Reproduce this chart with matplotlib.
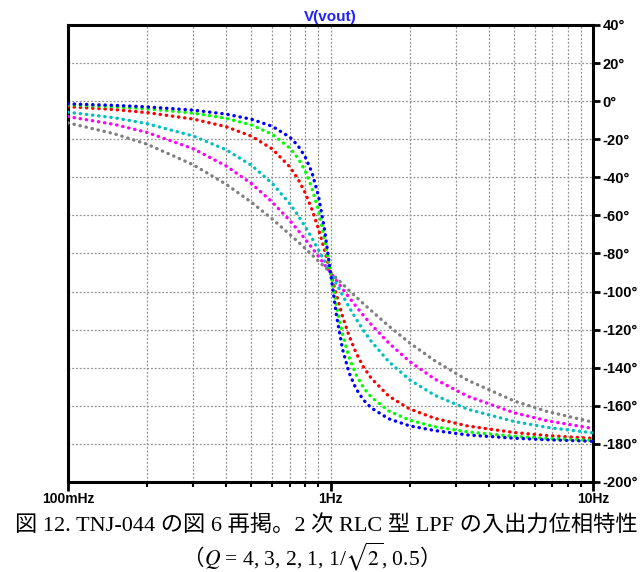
import matplotlib.pyplot as plt
import matplotlib as mpl
from matplotlib.ticker import FixedLocator, NullFormatter

mpl.rcParams['mathtext.fontset'] = 'stix'

# frequencies in Hz
freq = [0.1, 0.15, 0.2, 0.3, 0.4, 0.5, 0.6, 0.7, 0.75, 0.8, 0.85, 0.9, 0.95, 1.0,
        1.053, 1.111, 1.176, 1.25, 1.333, 1.429, 1.667, 2.0, 2.5, 3.333, 5.0, 6.667, 10.0]

# phase in degrees for each Q
phase_q4 = [-1.4, -2.2, -3.0, -4.7, -6.8, -9.5, -13.2, -18.9, -23.2, -29.1, -37.5, -49.8, -67.7, -90.0,
            -112.3, -130.2, -142.5, -150.9, -156.8, -161.1, -166.8, -170.5, -173.0, -175.3, -177.0, -177.8, -178.6]
phase_q3 = [-1.9, -2.9, -4.0, -6.3, -9.0, -12.5, -17.4, -24.6, -29.7, -36.5, -45.6, -57.7, -72.9, -90.0,
            -107.1, -122.3, -134.4, -143.5, -150.3, -155.4, -162.7, -167.5, -171.0, -173.7, -176.0, -177.1, -178.1]
phase_q2 = [-2.9, -4.4, -6.0, -9.4, -13.4, -18.4, -25.1, -34.5, -40.6, -48.0, -56.9, -67.1, -78.4, -90.0,
            -101.6, -112.9, -123.1, -132.0, -139.4, -145.5, -154.9, -161.6, -166.6, -170.6, -174.0, -175.6, -177.1]
phase_q1 = [-5.8, -8.7, -11.8, -18.3, -25.5, -33.7, -43.2, -53.9, -59.7, -65.8, -71.9, -78.1, -84.1, -90.0,
            -95.9, -101.9, -108.1, -114.2, -120.3, -126.1, -136.8, -146.3, -154.5, -161.8, -168.2, -171.3, -174.2]
phase_q07 = [-8.1, -12.2, -16.4, -25.0, -34.0, -43.3, -53.0, -62.7, -67.6, -72.4, -77.0, -81.5, -85.9, -90.0,
             -94.2, -98.5, -103.0, -107.7, -112.4, -117.3, -127.0, -136.7, -146.0, -155.0, -163.6, -167.8, -171.9]
phase_q05 = [-11.4, -17.1, -22.6, -33.4, -43.6, -53.1, -61.9, -70.0, -73.7, -77.3, -80.7, -84.0, -87.1, -90.0,
             -92.9, -96.0, -99.3, -102.7, -106.3, -110.0, -118.1, -126.9, -136.4, -146.6, -157.4, -162.9, -168.6]

series = [
    (phase_q05, '#808080'),
    (phase_q07, '#ff00ff'),
    (phase_q1, '#00c0c0'),
    (phase_q2, '#ff0000'),
    (phase_q3, '#00ff00'),
    (phase_q4, '#0000ff'),
]

W, H = 643, 572
fig = plt.figure(figsize=(W / 100, H / 100), dpi=100)
ax = fig.add_axes([68 / W, 1 - 482 / H, (593 - 68) / W, (482 - 25) / H])

for ph, c in series:
    ax.plot(freq, ph, color=c, lw=2.4, linestyle=(0, (0.1, 1.75)),
            dash_capstyle='round', zorder=3)

ax.set_xscale('log')
ax.set_xlim(0.1, 10)
ax.set_ylim(-200, 40)

ax.xaxis.set_major_locator(FixedLocator([0.1, 1, 10]))
ax.xaxis.set_minor_locator(FixedLocator([m * d for d in (0.1, 1) for m in range(2, 10)]))
ax.xaxis.set_minor_formatter(NullFormatter())
ax.set_xticklabels(['100mHz', '1Hz', '10Hz'], fontweight='bold', family='Liberation Sans', fontsize=10)

yt = list(range(-200, 41, 20))
ax.set_yticks(yt)
ax.set_yticklabels([f'{v}°' for v in yt], fontweight='bold', family='Liberation Sans', fontsize=10.5)
ax.yaxis.tick_right()

ax.tick_params(axis='y', which='major', direction='out', length=5, width=2, pad=2)
ax.tick_params(axis='x', which='major', direction='out', length=6.5, width=2, pad=1)
ax.tick_params(axis='x', which='minor', direction='out', length=3.6, width=1.5)

ax.grid(True, which='both', color='#909090', linestyle=(0, (1.5, 1.5)), lw=0.9)
for s in ax.spines.values():
    s.set_linewidth(2.2)

ax.set_title('V(vout)', color='#2020ff', fontweight='bold', family='Liberation Sans',
             fontsize=11, pad=3)

cap_font = ['Liberation Serif', 'Noto Sans CJK JP']
fig.text(326 / W, 1 - 526 / H, '図 12. TNJ-044 の図 6 再掲。2 次 RLC 型 LPF の入出力位相特性',
         ha='center', va='center', fontsize=16, family=cap_font)

# second caption line: mathtext in the middle, full-width brackets on each side
y2 = 1 - 565 / H
mid = fig.text(312 / W, y2, r'$Q$ = 4, 3, 2, 1, 1/$\sqrt{2}$, 0.5',
               ha='center', va='baseline', fontsize=15.5, family='Liberation Serif')
fig.canvas.draw()
bb = mid.get_window_extent()
fig.text(bb.x0 / W, y2, '（', ha='right', va='baseline', fontsize=15.5, family=cap_font)
fig.text(bb.x1 / W, y2, '）', ha='left', va='baseline', fontsize=15.5, family=cap_font)

plt.savefig('out.png', dpi=100)
